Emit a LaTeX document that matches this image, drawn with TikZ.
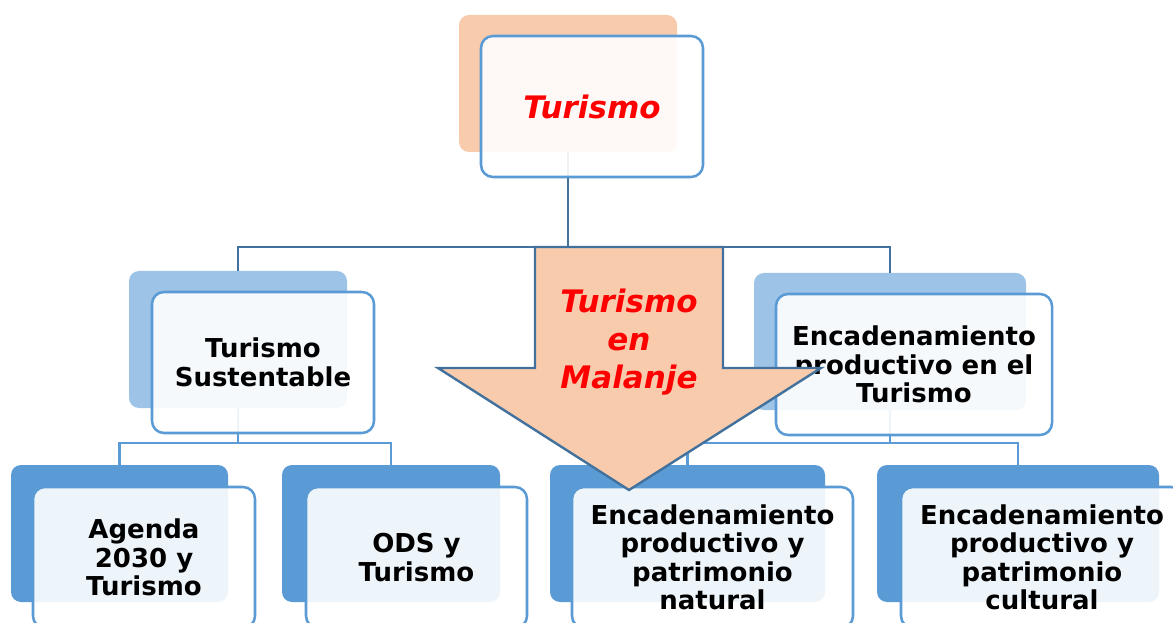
\documentclass[tikz,border=0pt]{standalone}
\usepackage{fontspec}
\setmainfont{DejaVu Sans}
\definecolor{peach}{HTML}{F8CBAD}
\definecolor{lblue}{HTML}{9DC3E6}
\definecolor{mblue}{HTML}{5B9BD5}
\definecolor{dblue}{HTML}{41719C}
\definecolor{tred}{HTML}{FF0000}
\begin{document}
\begin{tikzpicture}[x=0.75pt,y=-0.75pt,
  sz/.style 2 args={minimum width={#1*0.75pt}, minimum height={#2*0.75pt}, inner sep=0pt, outer sep=0pt},
  backbox/.style={rectangle, rounded corners=7.5pt, draw=none, fill=#1},
  frontbox/.style={rectangle, rounded corners=9pt, draw=mblue, line width=1.9pt, fill=white, fill opacity=0.9, text opacity=1, align=center, text=black, font=\fontsize{19.5}{21.4}\selectfont\bfseries},
  bigtxt/.style={align=center, text=tred, font=\fontsize{23.25}{28.5}\selectfont\bfseries\itshape},
  conn/.style={draw=mblue, line width=1.8pt},
  conntop/.style={draw=dblue, line width=1.8pt},
  arrowshape/.style={fill=peach, draw=dblue, line width=1.8pt, line join=miter}
]
\useasboundingbox (0,0) rectangle (1173,623);
\clip (0,0) rectangle (1173,623);

% back rectangles
\node[backbox=peach, sz={218}{137}] (tb) at (568,83.5) {};
\node[backbox=lblue, sz={218}{137}] (ab) at (238,339.5) {};
\node[backbox=lblue, sz={272}{137}] (bb) at (890,341.5) {};
\node[backbox=mblue, sz={217}{137}] (cb) at (119.5,533.5) {};
\node[backbox=mblue, sz={218}{137}] (db) at (391,533.5) {};
\node[backbox=mblue, sz={275}{137}] (eb) at (687.5,533.5) {};
\node[backbox=mblue, sz={282}{137}] (fb) at (1018,533.5) {};

% connectors
\coordinate (bus1) at (568,247);
\coordinate (bus2) at (238,443);
\coordinate (bus3) at (890,443);
\draw[conntop] (tb.south) -- (bus1);
\draw[conntop] (bus1) -| (ab.north);
\draw[conntop] (bus1) -| (bb.north);
\draw[conn] (ab.south) -- (bus2);
\draw[conn] (bus2) -| (cb.north);
\draw[conn] (bus2) -| (db.north);
\draw[conn] (bb.south) -- (bus3);
\draw[conn] (bus3) -| (eb.north);
\draw[conn] (bus3) -| (fb.north);

% front boxes with text
\node[frontbox, sz={222}{141}, text=tred, font=\fontsize{23.25}{28.5}\selectfont\bfseries\itshape] (tf) at (592,106.5) {Turismo};
\node[frontbox, sz={222}{141}] (af) at (263,362.5) {Turismo\\Sustentable};
\node[frontbox, sz={276}{141}] (bf) at (914,364.5) {Encadenamiento\\productivo en el\\Turismo};
\node[frontbox, sz={222}{141}] (cf) at (144,557.5) {Agenda\\2030 y\\Turismo};
\node[frontbox, sz={221}{141}] (df) at (416.5,557.5) {ODS y\\Turismo};
\node[frontbox, sz={281}{141}] (ef) at (712.5,557.5) {Encadenamiento\\productivo y\\patrimonio\\natural};
\node[frontbox, sz={282}{141}] (ff) at (1042,557.5) {Encadenamiento\\productivo y\\patrimonio\\cultural};

% big arrow
\draw[arrowshape] (535,247) -- (723,247) -- (723,368) -- (821,368) -- (629,490) -- (438,368) -- (535,368) -- cycle;
\node[bigtxt] (arrtxt) at (629,342) {Turismo\\en\\Malanje};
\end{tikzpicture}
\end{document}
